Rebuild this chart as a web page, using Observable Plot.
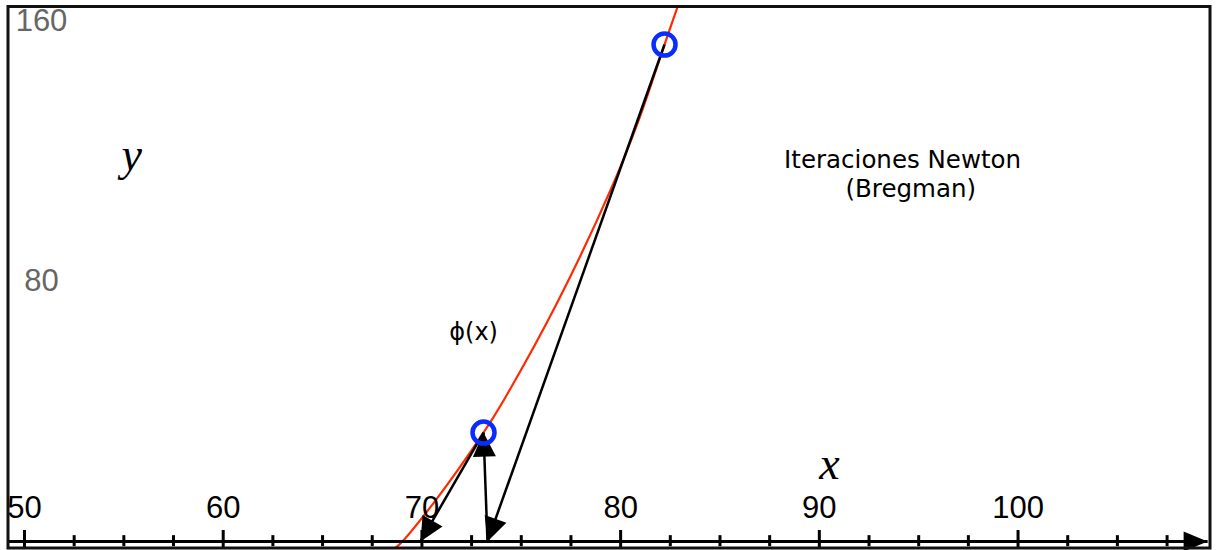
<!DOCTYPE html>
<html><head><meta charset="utf-8">
<script src="https://cdn.jsdelivr.net/npm/d3@7"></script>
<script src="https://cdn.jsdelivr.net/npm/@observablehq/plot@0.6"></script>
<style>html,body{margin:0;padding:0;background:#fff;overflow:hidden}</style>
</head><body><div id="chart"></div>
<script>
// red curve phi(x)
const curveX = [68.40, 68.92, 70.68, 73.10, 74.11, 76.87, 79.59, 80.90, 82.21, 82.95];
const curveY = [-3.0, -0.6, 12.6, 33.5, 43.4, 74.2, 109.5, 129.5, 152.9, 166.0];
// Newton iterates on the curve (blue circles)
const iterX = [82.21, 73.10];
const iterY = [152.9, 33.5];
// where each tangent meets the x axis
const rootX = [73.30, 69.93];
// axis ticks
const xTicks = [50, 60, 70, 80, 90, 100];
const xMinor = [52.5, 55, 57.5, 62.5, 65, 67.5, 72.5, 75, 77.5, 82.5, 85, 87.5, 92.5, 95, 97.5, 102.5, 105, 107.5];
const yTicks = [80, 160];
const xDomain = [49.17, 109.66];
const yDomain = [-2.0, 164.6];
const axisEnd = 109.54;

const svgns = "http://www.w3.org/2000/svg";
function headMarker(len, half) {
  return (color, context) => {
    const doc = context.document;
    const m = doc.createElementNS(svgns, "marker");
    m.setAttribute("viewBox", `${-len} ${-half} ${len} ${2*half}`);
    m.setAttribute("markerWidth", len);
    m.setAttribute("markerHeight", 2*half);
    m.setAttribute("markerUnits", "userSpaceOnUse");
    m.setAttribute("refX", 0);
    m.setAttribute("refY", 0);
    m.setAttribute("orient", "auto");
    m.setAttribute("overflow", "visible");
    const p = doc.createElementNS(svgns, "path");
    p.setAttribute("d", `M${-len},${-half}L0,0L${-len},${half}Z`);
    p.setAttribute("fill", color);
    p.setAttribute("stroke", "none");
    m.appendChild(p);
    return m;
  };
}

const curve = curveX.map((x, i) => ({x, y: curveY[i]}));
const iters = iterX.map((x, i) => ({x, y: iterY[i]}));
const segs = [
  {x1: iterX[0], y1: iterY[0], x2: rootX[0], y2: 0},
  {x1: rootX[0], y1: 0, x2: iterX[1], y2: iterY[1]},
  {x1: iterX[1], y1: iterY[1], x2: rootX[1], y2: 0}
];

const chart = Plot.plot({
  width: 1217,
  height: 550,
  marginLeft: 7.5,
  marginRight: 7.5,
  marginTop: 6,
  marginBottom: 2.5,
  x: {domain: xDomain, axis: null},
  y: {domain: yDomain, axis: null},
  style: {background: "#fff"},
  marks: [
    Plot.line(curve, {x: "x", y: "y", stroke: "#ff2a00", strokeWidth: 2.2, curve: "catmull-rom", clip: true}),
    // x axis with arrow
    Plot.link([0], {x1: () => xDomain[0], x2: () => axisEnd, y1: () => 0, y2: () => 0,
      stroke: "#000", strokeWidth: 3, markerEnd: headMarker(24, 10)}),
    Plot.ruleX(xTicks, {x: d => d, y1: -3, y2: 3.4, stroke: "#000", strokeWidth: 3, clip: true}),
    Plot.ruleX(xMinor, {x: d => d, y1: -1.6, y2: 1.8, stroke: "#000", strokeWidth: 3}),
    Plot.text(xTicks, {x: d => d, y: 0, dy: -33, text: d => String(d), fontSize: 31,
      fontFamily: "Liberation Sans, Arial, sans-serif", fill: "#000", textAnchor: "middle"}),
    Plot.text(yTicks, {y: d => d, frameAnchor: "left", dx: 33.5, text: d => String(d), fontSize: 31,
      fontFamily: "Liberation Sans, Arial, sans-serif", fill: "#666", textAnchor: "middle"}),
    // Newton steps
    Plot.link(segs, {x1: "x1", y1: "y1", x2: "x2", y2: "y2", stroke: "#000", strokeWidth: 2.5,
      markerEnd: headMarker(24, 11.5)}),
    Plot.dot(iters, {x: "x", y: "y", r: 11, stroke: "#0a2dff", strokeWidth: 4.5, fill: "none"}),
    // labels
    Plot.text(["y"], {x: 55.39, y: 118.7, text: d => d, fontSize: 46, fontStyle: "italic",
      fontFamily: "Liberation Serif, Times New Roman, serif", fill: "#000"}),
    Plot.text(["x"], {x: 90.51, y: 23.9, text: d => d, fontSize: 46, fontStyle: "italic",
      fontFamily: "Liberation Serif, Times New Roman, serif", fill: "#000"}),
    Plot.text(["Iteraciones Newton"], {x: 94.19, y: 117.4, text: d => d, fontSize: 24.5,
      fontFamily: "DejaVu Sans, sans-serif", fill: "#000"}),
    Plot.text(["(Bregman)"], {x: 94.6, y: 108.5, text: d => d, fontSize: 24.5,
      fontFamily: "DejaVu Sans, sans-serif", fill: "#000"}),
    Plot.text(["ϕ(x)"], {x: 72.6, y: 64.4, text: d => d, fontSize: 24,
      fontFamily: "DejaVu Sans, sans-serif", fill: "#000"}),
    Plot.frame({stroke: "#111", strokeWidth: 3})
  ]
});
document.getElementById("chart").appendChild(chart);
</script>
</body></html>
